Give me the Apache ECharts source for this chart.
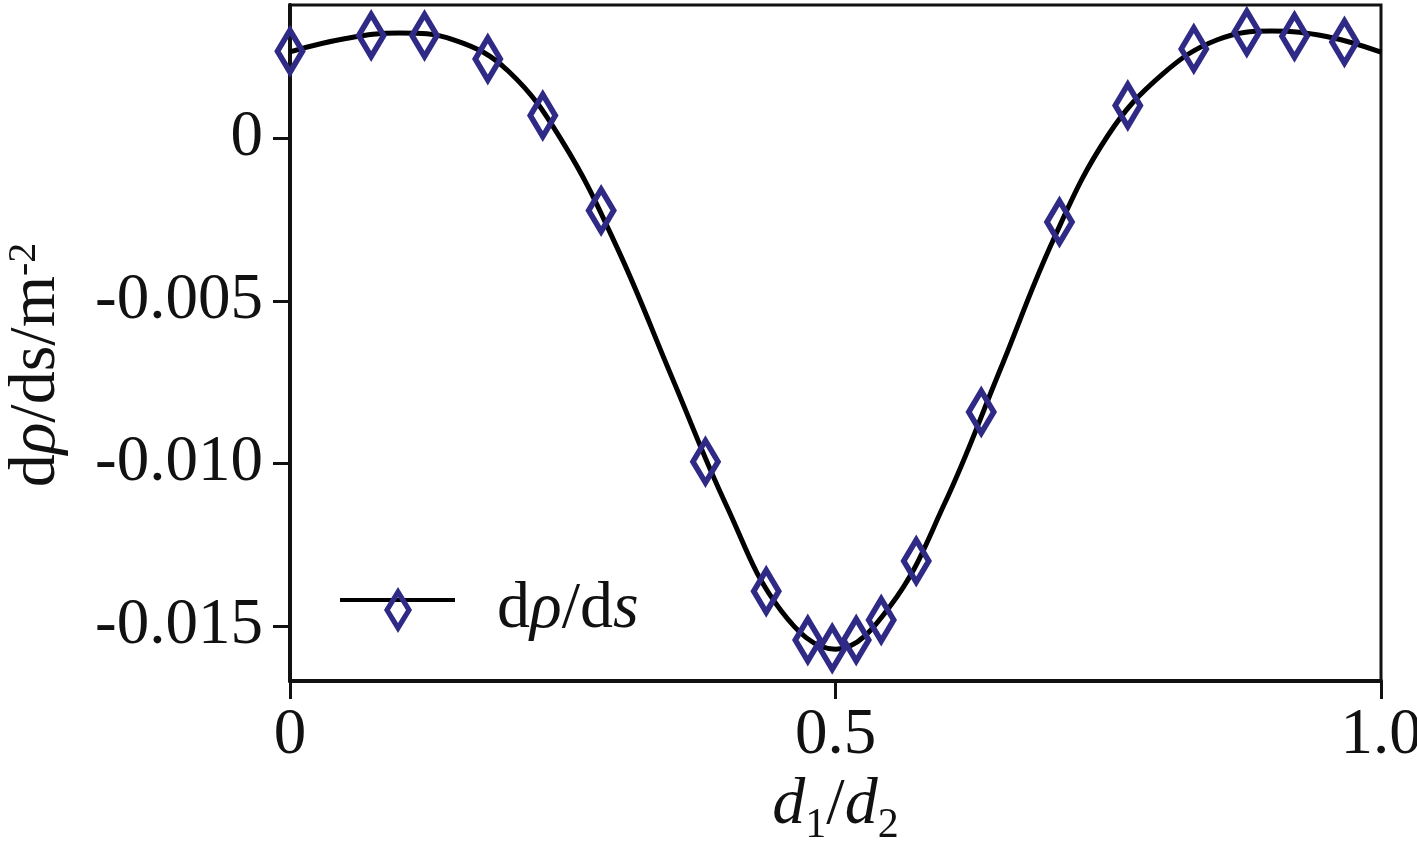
<!DOCTYPE html>
<html>
<head>
<meta charset="utf-8">
<script src="https://cdn.jsdelivr.net/npm/echarts@6/dist/echarts.min.js"></script>
<style>
html,body{margin:0;padding:0;background:#fff;}
#chart{width:1417px;height:852px;}
</style>
</head>
<body>
<div id="chart"></div>
<script>
// ---- data ----
const markerX = [0.000, 0.0744, 0.1233, 0.1813, 0.2317, 0.2852, 0.3808, 0.4365, 0.4746, 0.4970,
                 0.5190, 0.5419, 0.5740, 0.6336, 0.7053, 0.7679, 0.8284, 0.8770, 0.9207, 0.9665];
const markerY = [0.00268, 0.00316, 0.00316, 0.00244, 0.00070, -0.00222, -0.00995, -0.01394, -0.01544, -0.01569,
                 -0.01544, -0.01482, -0.01301, -0.00842, -0.00258, 0.00101, 0.00275, 0.00326, 0.00314, 0.00296];
const curveX = [0.00, 0.05, 0.10, 0.15, 0.20, 0.25, 0.30, 0.35, 0.40, 0.45, 0.50,
                0.55, 0.60, 0.65, 0.70, 0.75, 0.80, 0.85, 0.90, 0.95, 1.00];
const curveY = [0.00266, 0.00306, 0.00324, 0.00303, 0.00207, -0.00012, -0.00338, -0.00735, -0.01130, -0.01453, -0.01572,
                -0.01440, -0.01124, -0.00720, -0.00310, 0.00010, 0.00198, 0.00303, 0.00330, 0.00313, 0.00265];
const xTickValues = [0, 0.5, 1.0];
const xTickLabels = ['0', '0.5', '1.0'];
const yTickValues = [0, -0.005, -0.010, -0.015];
const yTickLabels = ['0', '-0.005', '-0.010', '-0.015'];
const seriesName = 'dρ/ds';
const curveName = 'curve';

const X_MIN = 0, X_MAX = 1.0;
const Y_MIN = -0.0167, Y_MAX = 0.0041;

const FONT = "'Liberation Serif', 'Times New Roman', serif";
const INK = '#111111';
const NAVY = '#2f2a85';

function lookup(values, labels) {
  return function (v) {
    for (let i = 0; i < values.length; i++) {
      if (Math.abs(values[i] - v) < 1e-9) return labels[i];
    }
    return '';
  };
}

const markerData = markerX.map((x, i) => [x, markerY[i]]);
const curveData = curveX.map((x, i) => [x, curveY[i]]);

const chart = echarts.init(document.getElementById('chart'), null, {renderer: 'canvas'});

const option = {
  animation: false,
  backgroundColor: '#ffffff',
  grid: {
    left: 290, right: 36, top: 5, bottom: 171,
    show: true, borderColor: INK, borderWidth: 3, backgroundColor: 'transparent',
    containLabel: false, outerBoundsMode: 'none'
  },
  legend: [
    {
      data: [curveName],
      left: 340, top: 598, padding: 0,
      icon: 'rect', itemWidth: 115, itemHeight: 4,
      selectedMode: false,
      itemStyle: {color: '#000000', borderWidth: 0},
      formatter: function () { return ''; },
      textStyle: {fontSize: 1}
    },
    {
      data: [seriesName],
      left: 384, top: 577, padding: 0,
      icon: 'path://M14,0L28,23L14,46L0,23ZM14,10L6,23L14,36L22,23Z',
      itemWidth: 28, itemHeight: 46,
      selectedMode: false,
      itemStyle: {color: NAVY, borderWidth: 0},
      formatter: function () { return '{u|d}{i|ρ}{u|/d}{i|s}'; },
      textStyle: {
        padding: [0, 0, 0, 80],
        rich: {
          u: {fontFamily: FONT, fontSize: 66, color: INK, lineHeight: 46},
          i: {fontFamily: FONT, fontSize: 66, fontStyle: 'italic', color: INK, lineHeight: 46}
        }
      }
    }
  ],
  xAxis: {
    type: 'value', min: X_MIN, max: X_MAX,
    axisLine: {show: true, onZero: false, lineStyle: {color: INK, width: 4}},
    axisTick: {show: true, inside: false, length: 18, customValues: xTickValues, lineStyle: {color: INK, width: 3}},
    axisLabel: {
      customValues: xTickValues, formatter: lookup(xTickValues, xTickLabels),
      fontFamily: FONT, fontSize: 65, color: INK, margin: 22
    },
    splitLine: {show: false},
    name: '{i|d}{sub|1}{u|/}{i|d}{sub|2}',
    nameLocation: 'middle', nameGap: 92,
    nameTextStyle: {
      rich: {
        i: {fontFamily: FONT, fontSize: 66, fontStyle: 'italic', color: INK},
        u: {fontFamily: FONT, fontSize: 66, color: INK},
        sub: {fontFamily: FONT, fontSize: 42, color: INK, verticalAlign: 'bottom', padding: [0, 0, -8, 0]}
      }
    }
  },
  yAxis: {
    type: 'value', min: Y_MIN, max: Y_MAX,
    axisLine: {show: true, onZero: false, lineStyle: {color: INK, width: 4}},
    axisTick: {show: true, inside: false, length: 17, customValues: yTickValues, lineStyle: {color: INK, width: 3}},
    axisLabel: {
      customValues: yTickValues, formatter: lookup(yTickValues, yTickLabels),
      fontFamily: FONT, fontSize: 65, color: INK, margin: 27
    },
    splitLine: {show: false},
    name: '{u|d}{i|ρ}{u|/ds/m}{sup|-2}',
    nameLocation: 'middle', nameRotate: 90, nameGap: 220,
    nameTextStyle: {
      padding: [0, 44, 0, 0],
      rich: {
        u: {fontFamily: FONT, fontSize: 66, color: INK},
        i: {fontFamily: FONT, fontSize: 66, fontStyle: 'italic', color: INK},
        sup: {fontFamily: FONT, fontSize: 40, color: INK, verticalAlign: 'top'}
      }
    }
  },
  series: [
    {
      name: curveName,
      type: 'line',
      data: curveData,
      smooth: 0.4,
      symbol: 'none',
      showSymbol: false,
      clip: true,
      itemStyle: {color: '#000000'},
      lineStyle: {color: '#000000', width: 5},
      z: 2
    },
    {
      name: seriesName,
      type: 'scatter',
      data: markerData,
      symbol: 'diamond',
      symbolSize: [25, 42],
      clip: false,
      itemStyle: {color: 'rgba(255,255,255,0)', borderColor: NAVY, borderWidth: 6, opacity: 1},
      z: 3
    }
  ]
};

chart.setOption(option);
</script>
</body>
</html>
